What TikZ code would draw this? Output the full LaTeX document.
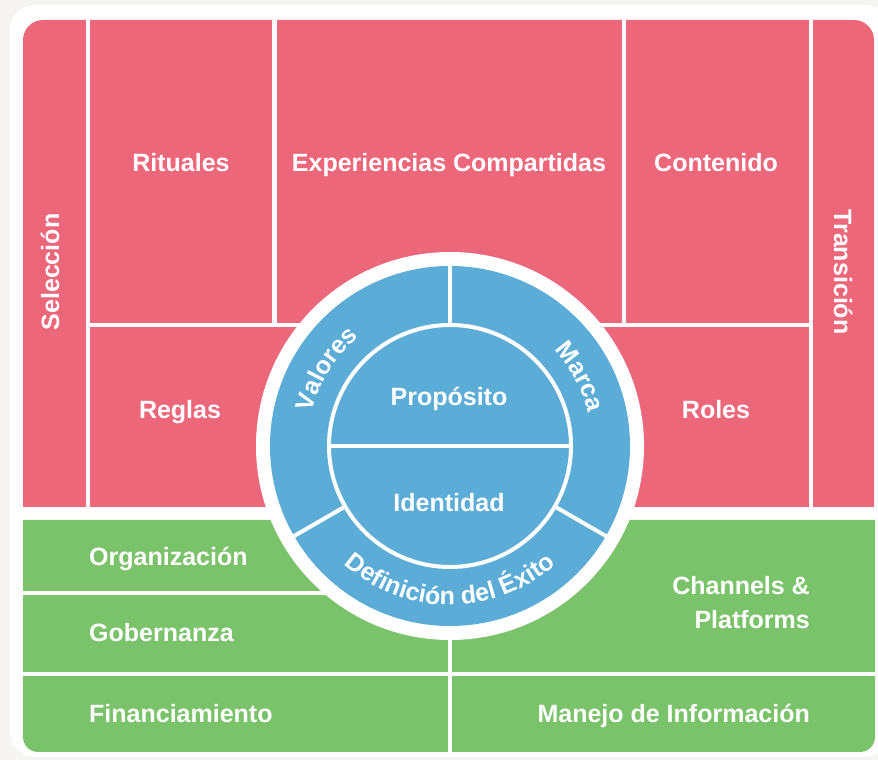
\documentclass[tikz,border=0pt]{standalone}
\usepackage{fontspec}
\setmainfont{Liberation Sans}
\usetikzlibrary{decorations.text}
\definecolor{pinkc}{RGB}{237,103,123}
\definecolor{greenc}{RGB}{122,195,106}
\definecolor{bluec}{RGB}{91,172,214}
\definecolor{bgc}{RGB}{246,245,243}
\newcommand\ringfont{\bfseries\fontsize{25}{25}\selectfont}
\begin{document}
\begin{tikzpicture}[x=1pt,y=1pt,
  sep/.style={white,line width=4.5pt},
  lbl/.style={text=white,font=\bfseries\fontsize{25}{30}\selectfont,inner sep=0pt,text height=18pt,text depth=0pt},
  ringtext/.style={decorate,decoration={text along path,text color=white,text align=center}}]
\useasboundingbox (0,0) rectangle (878,760);
\fill[bgc] (0,0) rectangle (878,760);
\fill[white,rounded corners=25] (10,3) rectangle (890,755);
% pink area
\fill[pinkc] (23,253) -- (23,720) arc[start angle=180,end angle=90,radius=20]
  -- (854,740) arc[start angle=90,end angle=0,radius=20] -- (874,253) -- cycle;
% green area
\fill[greenc] (23,240) -- (23,23) arc[start angle=180,end angle=270,radius=15]
  -- (860,8) arc[start angle=270,end angle=360,radius=15] -- (875,240) -- cycle;
% pink separators
\coordinate (p1t) at (88,740); \coordinate (p1b) at (88,253);
\coordinate (p2t) at (811,740); \coordinate (p2b) at (811,253);
\coordinate (p3t) at (274.5,740); \coordinate (p3b) at (274.5,435);
\coordinate (p4t) at (624,740); \coordinate (p4b) at (624,435);
\coordinate (hl) at (88,435); \coordinate (hr) at (811,435);
\draw[sep] (p1t) -- (p1b); \draw[sep] (p2t) -- (p2b);
\draw[sep] (p3t) -- (p3b); \draw[sep] (p4t) -- (p4b);
\draw[sep] (hl) -- (hr);
% green separators
\coordinate (g1l) at (23,167); \coordinate (g1r) at (450,167);
\coordinate (g2l) at (23,86); \coordinate (g2r) at (875,86);
\coordinate (gvt) at (450,240); \coordinate (gvb) at (450,8);
\draw[sep] (g1l) -- (g1r); \draw[sep] (g2l) -- (g2r); \draw[sep] (gvt) -- (gvb);
% circle
\coordinate (c) at (450,314);
\fill[white] (c) circle[radius=194];
\fill[bluec] (c) circle[radius=180];
\draw[white,line width=4pt] (c) circle[radius=121];
\draw[white,line width=4pt] ([shift={(180:121)}]c) -- ([shift={(0:121)}]c);
\draw[white,line width=4pt] ([shift={(90:121)}]c) -- ([shift={(90:181)}]c);
\draw[white,line width=4pt] ([shift={(210:121)}]c) -- ([shift={(210:181)}]c);
\draw[white,line width=4pt] ([shift={(330:121)}]c) -- ([shift={(330:181)}]c);
% ring texts
\path[ringtext,decoration={text={|\ringfont|Valores}}] ([shift={(200:142)}]c) arc[start angle=200,end angle=96,radius=142];
\path[ringtext,decoration={text={|\ringfont|Marca}}] ([shift={(80:142)}]c) arc[start angle=80,end angle=-24,radius=142];
\path[ringtext,decoration={text={|\ringfont|Definición del Éxito}}] ([shift={(180:159)}]c) arc[start angle=180,end angle=360,radius=159];
% labels
\node[lbl] (rit) at (181,597) {Rituales};
\node[lbl] (exp) at (449,597) {Experiencias Compartidas};
\node[lbl] (con) at (716,597) {Contenido};
\node[lbl] (reg) at (180,350) {Reglas};
\node[lbl] (rol) at (716,350) {Roles};
\node[lbl,rotate=90] (sel) at (50,488) {Selección};
\node[lbl,rotate=-90] (tra) at (843,488) {Transición};
\node[lbl] (pro) at (449,363) {Propósito};
\node[lbl] (ide) at (449,257) {Identidad};
\node[lbl,anchor=west] (org) at (89,203) {Organización};
\node[lbl,anchor=west] (gob) at (89,127) {Gobernanza};
\node[lbl,anchor=west] (fin) at (89,46) {Financiamiento};
\node[text=white,font=\bfseries\fontsize{25}{34}\selectfont,inner sep=0pt,align=right,anchor=east] (cha) at (810,157) {Channels \&\\Platforms};
\node[lbl,anchor=east] (man) at (810,46) {Manejo de Información};
\end{tikzpicture}
\end{document}
